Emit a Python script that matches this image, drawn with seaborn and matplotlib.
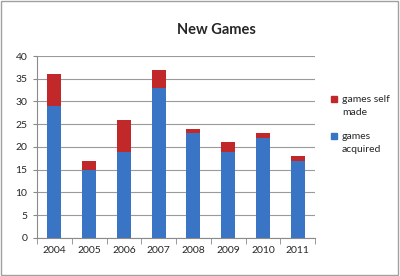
import matplotlib
matplotlib.use("Agg")
import matplotlib.pyplot as plt
import seaborn as sns
import pandas as pd
import numpy as np
from matplotlib.patches import Patch, Rectangle
from matplotlib.legend_handler import HandlerPatch

years = ["2004", "2005", "2006", "2007", "2008", "2009", "2010", "2011"]
acquired = [29, 15, 19, 33, 23, 19, 22, 17]
self_made = [7, 2, 7, 4, 1, 2, 1, 1]
totals = [a + s for a, s in zip(acquired, self_made)]

df = pd.DataFrame({"year": years, "acquired": acquired, "total": totals})

sns.set_style("white")
plt.rcParams['font.family'] = ['Lato', 'DejaVu Sans']

fig = plt.figure(figsize=(4.0, 2.76), dpi=100)
ax = fig.add_axes([0.0925, 0.138, 0.695, 0.659])

blue = "#3A74C4"
red = "#C0282A"

sns.barplot(data=df, x="year", y="total", color=red, width=0.4, ax=ax,
            saturation=1, edgecolor="none")
sns.barplot(data=df, x="year", y="acquired", color=blue, width=0.4, ax=ax,
            saturation=1, edgecolor="none")

ax.set_ylim(0, 40)
ax.set_xlim(-0.5, len(years) - 0.5)
ax.set_yticks(range(0, 41, 5))
ax.yaxis.grid(True, color="#9a9a9a", linewidth=0.8)
ax.set_axisbelow(True)
ax.set_xlabel("")
ax.set_ylabel("")
for s in ["top", "right"]:
    ax.spines[s].set_visible(False)
for s in ["left", "bottom"]:
    ax.spines[s].set_color("#8a8a8a")
    ax.spines[s].set_linewidth(0.8)
ax.tick_params(axis="y", left=True, length=3, color="#8a8a8a", labelsize=7.5, pad=4)
ax.tick_params(axis="x", which="major", length=0, labelsize=7.5, pad=6)
ax.set_xticks(np.arange(-0.5, len(years), 1), minor=True)
ax.tick_params(axis="x", which="minor", bottom=True, length=4, color="#8a8a8a")

fig.text(0.54, 0.89, "New Games", ha="center", va="center", fontsize=10.5, fontweight="bold")


def top_patch(legend, orig_handle, xdescent, ydescent, width, height, fontsize):
    return Rectangle((-xdescent, -ydescent + 0.62 * fontsize), width, height)


handles = [Patch(color=red, label="games self\nmade"), Patch(color=blue, label="games\nacquired")]
leg = fig.legend(handles=handles, loc="upper left", bbox_to_anchor=(0.805, 0.69), frameon=False,
                 fontsize=7.5, handlelength=0.55, handleheight=0.55, handletextpad=0.45,
                 labelspacing=1.45,
                 handler_map={Patch: HandlerPatch(patch_func=top_patch)})
for t in leg.get_texts():
    t.set_linespacing(1.55)

fig.patches.append(Rectangle((0.003, 0.004), 0.993, 0.992, transform=fig.transFigure,
                             fill=False, edgecolor="#a0a0a0", linewidth=1))

fig.savefig("out.png", dpi=100)
